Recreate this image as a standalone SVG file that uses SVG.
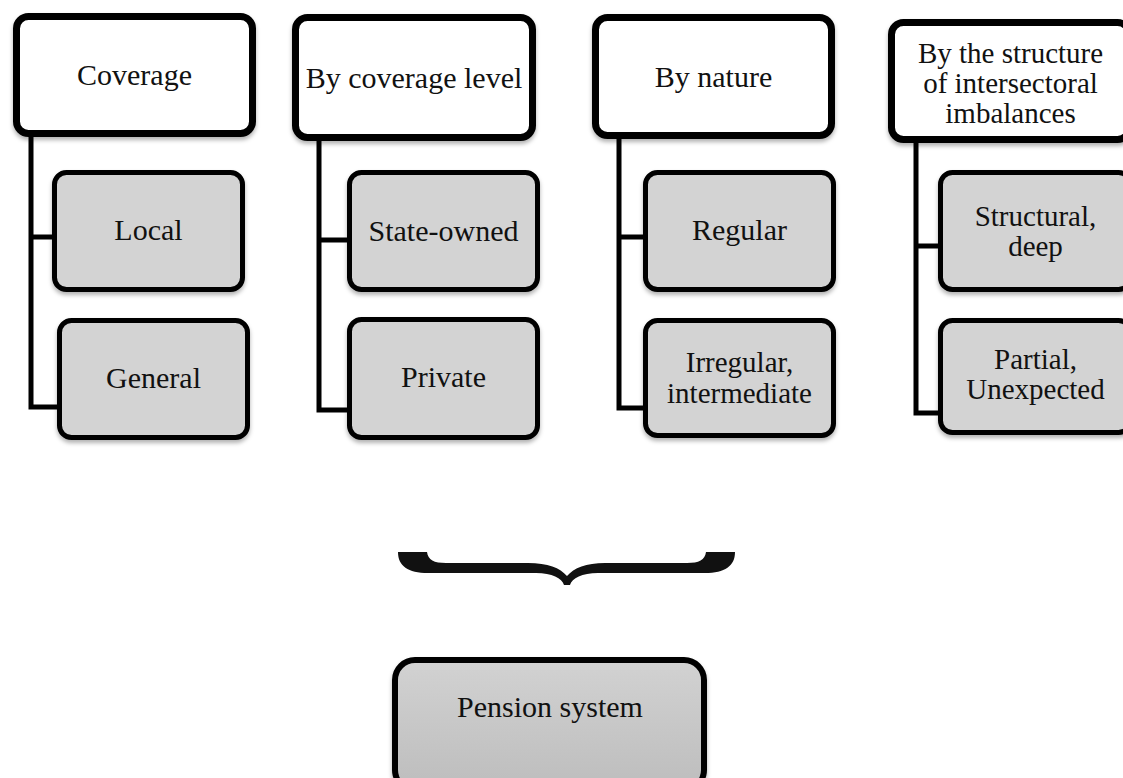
<svg xmlns="http://www.w3.org/2000/svg" width="1123" height="778" viewBox="0 0 1123 778">
  <defs>
    <filter id="sh" x="-10%" y="-10%" width="120%" height="130%">
      <feDropShadow dx="0" dy="3" stdDeviation="2" flood-color="#000" flood-opacity="0.3"/>
    </filter>
    <linearGradient id="gp" x1="0" y1="0" x2="0" y2="1">
      <stop offset="0" stop-color="#d2d2d2"/>
      <stop offset="1" stop-color="#bdbdbd"/>
    </linearGradient>
  </defs>
  <style>
    .hdr { fill: #ffffff; stroke: #000; stroke-width: 7; filter: url(#sh); }
    .chd { fill: #d3d3d3; stroke: #000; stroke-width: 5; filter: url(#sh); }
    .root { fill: url(#gp); stroke: #000; stroke-width: 6; filter: url(#sh); }
    .conn { fill: none; stroke: #000; stroke-width: 5; }
    text { font-family: "Liberation Serif", "Times New Roman", serif; font-size: 30px; fill: #111; text-anchor: middle; }
    text.ml { font-size: 29px; }
  </style>
  <rect width="1123" height="778" fill="#ffffff"/>

  <g id="connectors">
    <path class="conn" d="M31,137 V407 H57 M31,237 H54"/>
    <path class="conn" d="M319,141 V410 H349 M319,240 H349"/>
    <path class="conn" d="M619,139 V408 H645 M619,237 H645"/>
    <path class="conn" d="M916,142 V413 H940 M916,246 H940"/>
  </g>

  <g id="n-coverage">
    <rect class="hdr" x="16.5" y="16.5" width="236" height="117" rx="12"/>
    <text x="134.5" y="85">Coverage</text>
  </g>
  <g id="n-local">
    <rect class="chd" x="54.5" y="172.5" width="188" height="117" rx="12"/>
    <text x="148.5" y="240">Local</text>
  </g>
  <g id="n-general">
    <rect class="chd" x="59.5" y="320.5" width="188" height="117" rx="12"/>
    <text x="153.5" y="388">General</text>
  </g>

  <g id="n-bycoverage">
    <rect class="hdr" x="295.5" y="17.5" width="237" height="120" rx="12"/>
    <text x="414" y="88">By coverage level</text>
  </g>
  <g id="n-state">
    <rect class="chd" x="349.5" y="172.5" width="188" height="117" rx="12"/>
    <text x="443.5" y="241">State-owned</text>
  </g>
  <g id="n-private">
    <rect class="chd" x="349.5" y="319.5" width="188" height="118" rx="12"/>
    <text x="443.5" y="387">Private</text>
  </g>

  <g id="n-bynature">
    <rect class="hdr" x="595.5" y="17.5" width="236" height="118" rx="12"/>
    <text x="713.5" y="87">By nature</text>
  </g>
  <g id="n-regular">
    <rect class="chd" x="645.5" y="172.5" width="188" height="117" rx="12"/>
    <text x="739.5" y="240">Regular</text>
  </g>
  <g id="n-irregular">
    <rect class="chd" x="645.5" y="320.5" width="188" height="115" rx="12"/>
    <text class="ml" x="739.5" y="372">Irregular,</text>
    <text class="ml" x="739.5" y="403">intermediate</text>
  </g>

  <g id="n-bystructure">
    <rect class="hdr" x="891.5" y="22.5" width="238" height="117" rx="12"/>
    <text class="ml" x="1010.5" y="63">By the structure</text>
    <text class="ml" x="1010.5" y="93">of intersectoral</text>
    <text class="ml" x="1010.5" y="123">imbalances</text>
  </g>
  <g id="n-structural">
    <rect class="chd" x="940.5" y="172.5" width="190" height="117" rx="12"/>
    <text class="ml" x="1035.5" y="226">Structural,</text>
    <text class="ml" x="1035.5" y="256">deep</text>
  </g>
  <g id="n-partial">
    <rect class="chd" x="940.5" y="320.5" width="190" height="112" rx="12"/>
    <text class="ml" x="1035.5" y="369">Partial,</text>
    <text class="ml" x="1035.5" y="399">Unexpected</text>
  </g>

  <g id="brace">
    <path fill="#111" d="M398,552 L427,552 C428,560 434,563 446,563 L528,563 C548,563 560,568 567,576 C574,568 586,563 605,563 L687,563 C699,563 705,560 706,552 L735,552 C735,566 725,573 705,573 L598,573 C582,573 572,578 570,585 L564,585 C562,578 552,573 536,573 L428,573 C408,573 398,566 398,552 Z"/>
  </g>

  <g id="n-pension">
    <rect class="root" x="395" y="660" width="309" height="130" rx="20"/>
    <text x="550" y="717">Pension system</text>
  </g>
</svg>
